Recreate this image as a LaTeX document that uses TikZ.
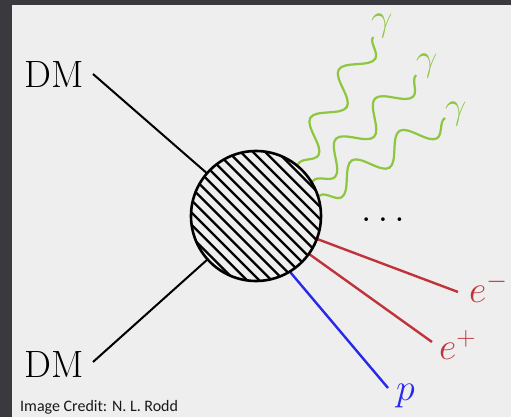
\RequirePackage{fix-cm}
\documentclass[tikz,border=0pt]{standalone}
\usepackage{fontspec}
\newfontfamily\creditfont{Carlito}
\usetikzlibrary{decorations.pathmorphing,calc}
\definecolor{frame}{RGB}{58,58,62}
\definecolor{paper}{RGB}{238,238,238}
\definecolor{phgreen}{RGB}{141,198,63}
\definecolor{lepred}{RGB}{190,52,58}
\definecolor{problue}{RGB}{40,40,235}
\tikzset{
  big/.style={font=\fontsize{38}{40}\selectfont, inner sep=0pt, outer sep=0pt},
  dmline/.style={line width=2pt, black},
  lepton/.style={line width=2.4pt, lepred},
  proton/.style={line width=2.4pt, problue},
  photon/.style={line width=2.2pt, phgreen, decorate,
     decoration={snake, segment length=56pt, amplitude=13pt}},
  hatch/.style={line width=2.3pt, black},
}
\begin{document}
\begin{tikzpicture}[x=1pt,y=-1pt]
\fill[frame] (0,0) rectangle (511,417);
\fill[paper] (12,5) rectangle (511,417);
\useasboundingbox (0,0) rectangle (511,417);

% labels
\node[big, anchor=center] (dm1) at (54,75) {DM};
\node[big, anchor=center] (dm2) at (54,365) {DM};
\coordinate (a1) at (93,74);
\coordinate (a2) at (93,362);
\coordinate (c) at (256,216);

\node[big, anchor=base west, text=lepred] (em) at (469,302) {$e^-$};
\node[big, anchor=base west, text=lepred] (ep) at (439,359) {$e^+$};
\node[big, anchor=base west, text=problue] (p) at (396,400) {$p$};
\node[big, anchor=base] (dots) at (383,221.5) {$\ldots$};

\node[big, anchor=base west, text=phgreen] (g1) at (371,31) {$\gamma$};
\node[big, anchor=base west, text=phgreen] (g2) at (416,71) {$\gamma$};
\node[big, anchor=base west, text=phgreen] (g3) at (445,118) {$\gamma$};

\coordinate (emend) at (458,292);
\coordinate (epend) at (432,342);
\coordinate (pend) at (388,388);
\coordinate (pstart) at (280,260);

% incoming and outgoing lines
\draw[dmline] (a1) -- (c);
\draw[dmline] (a2) -- (c);
\draw[lepton] (c) -- (emend);
\draw[lepton] (c) -- (epend);
\draw[proton] (pstart) -- (pend);

% photons
\coordinate (s1) at (297,166);
\coordinate (s2) at (312,182);
\coordinate (s3) at (319,196);
\coordinate (e1) at (373,37);
\coordinate (e2) at (416,75);
\coordinate (e3) at (445,118);
\draw[photon] (e1) -- (s1);
\draw[photon] (e2) -- (s2);
\draw[photon] (e3) -- (s3);

% blob
\fill[paper] (c) circle (65);
\begin{scope}
  \clip (c) circle (65);
  \foreach \k in {-8,...,8} {
    \draw[hatch] ($(c)+(\k*6.1,-\k*6.1)+(-80,-80)$) -- ($(c)+(\k*6.1,-\k*6.1)+(80,80)$);
  }
\end{scope}
\draw[line width=2.6pt] (c) circle (65);

\node[anchor=base west, inner sep=0pt, font=\creditfont\fontsize{16}{18}\selectfont, text={rgb,255:red,25;green,25;blue,25}] (credit) at (20,411) {Image Credit: N. L. Rodd};
\end{tikzpicture}
\end{document}
